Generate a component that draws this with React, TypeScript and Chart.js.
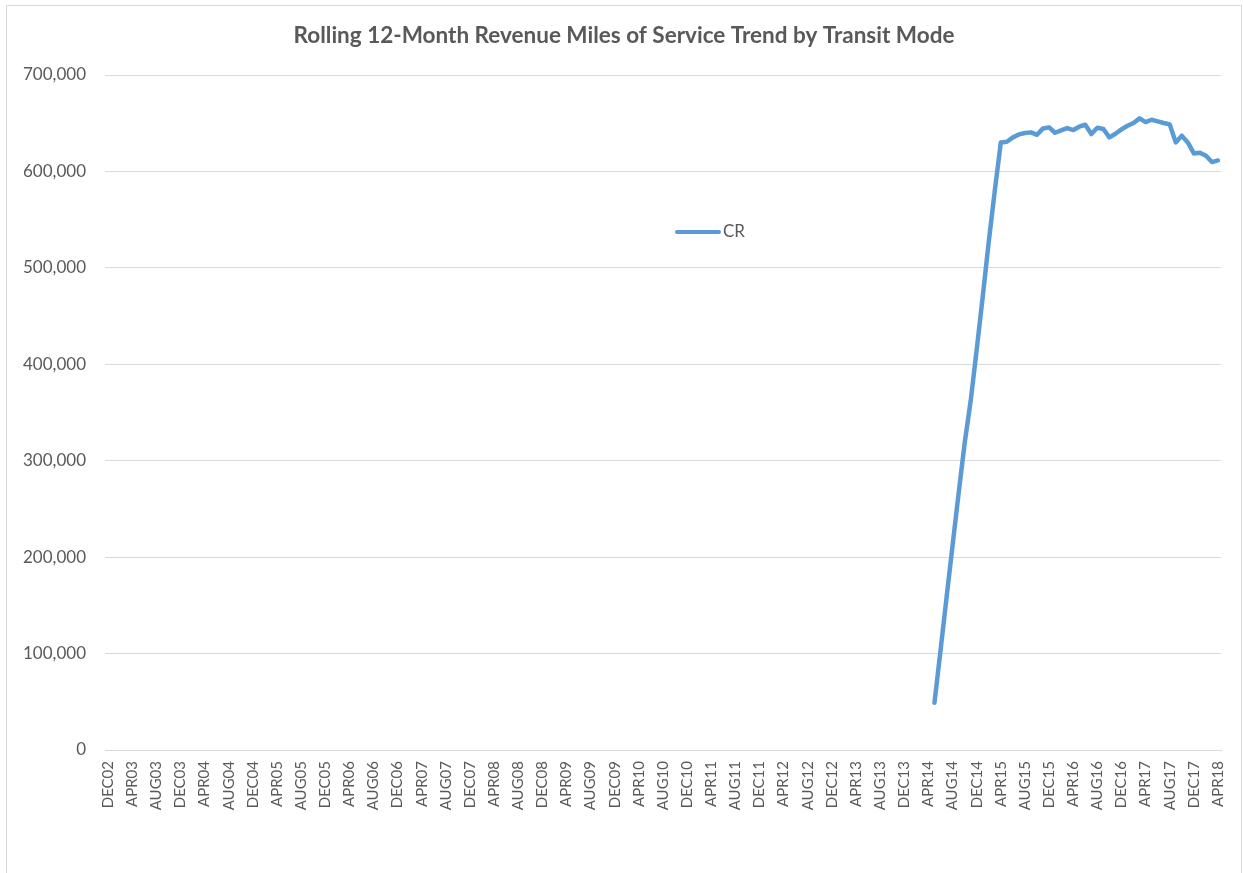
import React, { useEffect, useRef } from 'react';
import { Chart, registerables } from 'chart.js';

Chart.register(...registerables);

const TITLE = 'Rolling 12-Month Revenue Miles of Service Trend by Transit Mode';
const SERIES_NAME = 'CR';

const MONTH_ABBR = ['JAN', 'FEB', 'MAR', 'APR', 'MAY', 'JUN', 'JUL', 'AUG', 'SEP', 'OCT', 'NOV', 'DEC'];
const FIRST_YEAR = 2002;
const FIRST_MONTH = 11; // DEC
const LAST_YEAR = 2018;
const LAST_MONTH = 3; // APR
const LABEL_EVERY = 4;

const CR_START = 'MAY14';
const CR_VALUES = [
  49000, 103000, 158000, 212000, 266000, 318000, 362000, 415000, 470000, 527000, 580000, 630000,
  630800, 635300, 638400, 639800, 640500, 638000, 644600, 645700, 640100, 642600, 645000, 642900,
  646400, 648400, 638800, 645300, 644000, 635300, 639100, 643600, 647400, 650200, 655000, 651200,
  653600, 651900, 650200, 648800, 630100, 637000, 630100, 618700, 619400, 616300, 609700, 611400,
];

const Y_MIN = 0;
const Y_MAX = 700000;
const Y_STEP = 100000;

function buildCategories(): string[] {
  const out: string[] = [];
  let y = FIRST_YEAR;
  let m = FIRST_MONTH;
  while (y < LAST_YEAR || (y === LAST_YEAR && m <= LAST_MONTH)) {
    out.push(MONTH_ABBR[m] + String(y % 100).padStart(2, '0'));
    m++;
    if (m > 11) {
      m = 0;
      y++;
    }
  }
  return out;
}

const CATEGORIES = buildCategories();

function buildSeries(): (number | null)[] {
  const start = CATEGORIES.indexOf(CR_START);
  return CATEGORIES.map((_, i) => {
    const k = i - start;
    return k >= 0 && k < CR_VALUES.length ? CR_VALUES[k] : null;
  });
}

const TEXT_COLOR = '#595959';
const GRID_COLOR = '#d9d9d9';
const LINE_COLOR = '#5B9BD5';
const FONT = 'Lato, "Open Sans", sans-serif';

export default function App() {
  const canvasRef = useRef<HTMLCanvasElement | null>(null);

  useEffect(() => {
    document.body.style.margin = '0';
    document.body.style.overflow = 'hidden';
    const canvas = canvasRef.current;
    if (!canvas) return;

    const overlay = {
      id: 'overlay',
      afterDraw(chart: any) {
        const ctx = chart.ctx;
        const area = chart.chartArea;
        ctx.save();
        // title
        ctx.fillStyle = TEXT_COLOR;
        ctx.font = `bold 22.5px ${FONT}`;
        ctx.textAlign = 'center';
        ctx.textBaseline = 'middle';
        ctx.fillText(TITLE, 624, 36);
        // legend
        const lx = area.left + 572;
        const ly = area.top + 157;
        ctx.strokeStyle = LINE_COLOR;
        ctx.lineWidth = 4;
        ctx.lineCap = 'round';
        ctx.beginPath();
        ctx.moveTo(lx, ly);
        ctx.lineTo(lx + 42, ly);
        ctx.stroke();
        ctx.font = `17px ${FONT}`;
        ctx.textAlign = 'left';
        ctx.fillText(SERIES_NAME, lx + 46, ly);
        ctx.restore();
      },
    };

    const chart = new Chart(canvas, {
      type: 'line',
      data: {
        labels: CATEGORIES,
        datasets: [
          {
            label: SERIES_NAME,
            data: buildSeries(),
            borderColor: LINE_COLOR,
            backgroundColor: LINE_COLOR,
            borderWidth: 4.5,
            pointRadius: 0,
            tension: 0,
            borderJoinStyle: 'round',
            borderCapStyle: 'round',
            spanGaps: false,
          },
        ],
      },
      options: {
        animation: false,
        responsive: false,
        devicePixelRatio: 1,
        layout: { padding: { top: 75, right: 22, bottom: 0, left: 0 } },
        plugins: {
          legend: { display: false },
          title: { display: false },
          tooltip: { enabled: false },
        },
        scales: {
          x: {
            type: 'category',
            offset: true,
            grid: { display: false, drawTicks: false },
            border: { display: true, color: GRID_COLOR, width: 1 },
            ticks: {
              autoSkip: false,
              maxRotation: 90,
              minRotation: 90,
              padding: 11,
              color: TEXT_COLOR,
              font: { family: FONT, size: 15 },
              callback: (_v: any, i: number) => (i % LABEL_EVERY === 0 ? CATEGORIES[i] : ''),
            },
            afterFit: (scale: any) => {
              scale.height = 123;
              scale.paddingLeft = 0;
              scale.paddingRight = 0;
            },
          },
          y: {
            min: Y_MIN,
            max: Y_MAX,
            grid: { color: GRID_COLOR, drawTicks: false, lineWidth: 1 },
            border: { display: false },
            ticks: {
              stepSize: Y_STEP,
              padding: 19,
              color: TEXT_COLOR,
              font: { family: FONT, size: 17 },
              callback: (v: any) => Number(v).toLocaleString('en-US'),
            },
            afterFit: (scale: any) => {
              scale.width = 105;
            },
          },
        },
      },
      plugins: [overlay],
    });

    return () => chart.destroy();
  }, []);

  return (
    <div style={{ position: 'relative', width: 1243, height: 873, overflow: 'hidden', background: '#fff' }}>
      <canvas ref={canvasRef} width={1243} height={873} style={{ position: 'absolute', left: 0, top: 0 }} />
      <div
        style={{
          position: 'absolute',
          left: 6,
          top: 5,
          width: 1236,
          height: 900,
          border: `1px solid ${GRID_COLOR}`,
          boxSizing: 'border-box',
          pointerEvents: 'none',
        }}
      />
    </div>
  );
}
